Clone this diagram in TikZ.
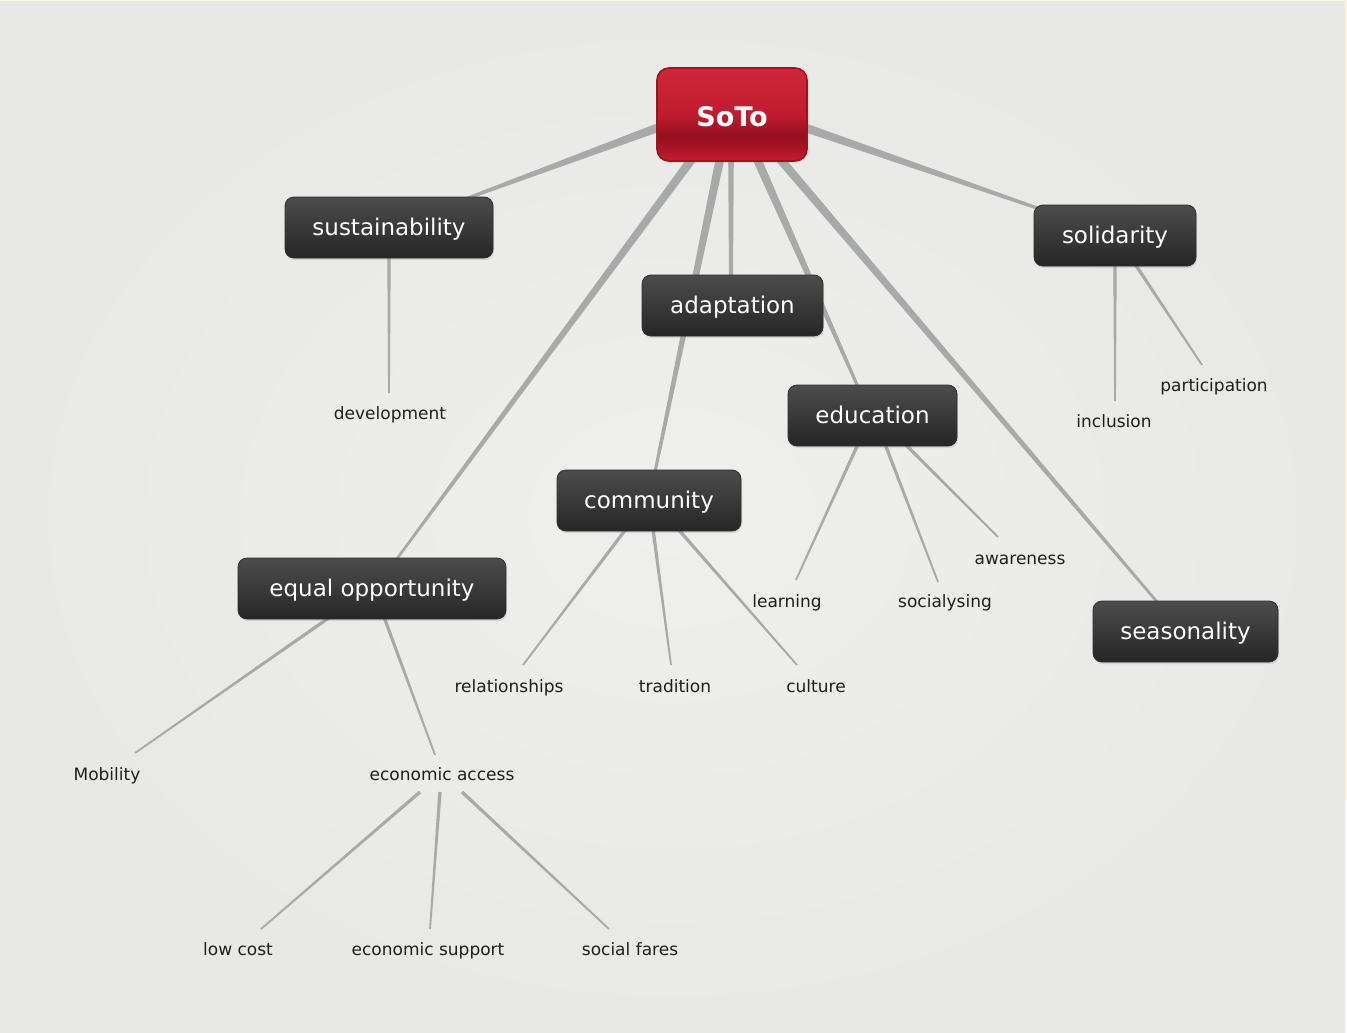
\documentclass[tikz,border=0pt]{standalone}
\usepackage{fontspec}
\setmainfont{DejaVu Sans}
\usetikzlibrary{calc,shadows}

\pgfdeclarelayer{back}
\pgfdeclarelayer{edges}
\pgfsetlayers{back,edges,main}

\definecolor{bgout}{HTML}{E8E8E6}
\definecolor{bgin}{HTML}{EFEFED}
\definecolor{rim}{HTML}{FBF8E2}
\definecolor{edgecol}{HTML}{A8AAA9}
\definecolor{leafcol}{HTML}{1E1E1E}
\definecolor{darktop}{HTML}{4C4C4C}
\definecolor{darkbot}{HTML}{262626}
\definecolor{darkrim}{HTML}{2E2E2E}
\definecolor{redtop}{HTML}{D0263A}
\definecolor{redmid}{HTML}{C01C2E}
\definecolor{reddark}{HTML}{931020}
\definecolor{redlow}{HTML}{AE1526}
\definecolor{redbot}{HTML}{C41D2D}
\definecolor{redrim}{HTML}{A3101F}

% glossy red fill of the root box (stops run bottom to top)
\pgfdeclareverticalshading{rootgloss}{100bp}{%
  color(0bp)=(redbot); color(25bp)=(redbot); color(31bp)=(redlow);
  color(38bp)=(reddark); color(50bp)=(redmid); color(75bp)=(redtop);
  color(100bp)=(redtop)}

% tapered connector: from point #1 to point #2, half widths #3 and #4
\newcommand\conn[4]{%
  \coordinate (ca) at (#1);
  \coordinate (cb) at (#2);
  \fill[edgecol] ($(ca)!#3!90:(cb)$) -- ($(ca)!#3!-90:(cb)$)
    -- ($(cb)!#4!90:(ca)$) -- ($(cb)!#4!-90:(ca)$) -- cycle;}

\tikzset{
  rootbox/.style={rectangle, rounded corners=12pt, draw=redrim, line width=1.6pt,
    shading=rootgloss, minimum width=150pt, minimum height=93pt, inner sep=0pt,
    text=white, font=\bfseries\fontsize{27}{27}\selectfont,
    text height=27pt, text depth=3pt,
    drop shadow={opacity=0.18, shadow xshift=1pt, shadow yshift=-2pt}},
  topic/.style={rectangle, rounded corners=9pt, draw=darkrim, line width=0.8pt,
    top color=darktop, bottom color=darkbot, minimum height=61pt, inner sep=0pt,
    text=white, font=\fontsize{23}{23}\selectfont,
    text height=19pt, text depth=3pt,
    drop shadow={opacity=0.22, shadow xshift=1pt, shadow yshift=-2pt}},
  leaf/.style={inner sep=0pt, text=leafcol, font=\fontsize{17}{17}\selectfont,
    text height=15pt, text depth=2pt},
}

\begin{document}
\begin{tikzpicture}[x=1pt, y=-1pt]
\useasboundingbox (0,0) rectangle (1347,1033);

% backdrop
\begin{pgfonlayer}{back}
  \fill[white] (0,0) rectangle (1347,1033);
  \fill[rim] (0,0) rectangle (1347,800);
  \shade[inner color=bgin, outer color=bgout] (0,2) rectangle (1345,1033);
\end{pgfonlayer}

% root and topics
\node[rootbox] (soto) at (732,114.5) {SoTo};
\node[topic, minimum width=208pt] (sus) at (389,227.5) {sustainability};
\node[topic, minimum width=162pt] (sol) at (1115,235.5) {solidarity};
\node[topic, minimum width=181pt] (ada) at (732.5,305.5) {adaptation};
\node[topic, minimum width=169pt] (edu) at (872.5,415.5) {education};
\node[topic, minimum width=184pt] (com) at (649,500.5) {community};
\node[topic, minimum width=268pt] (eqo) at (372,588.5) {equal opportunity};
\node[topic, minimum width=185pt] (sea) at (1185.5,631.5) {seasonality};

% leaf labels
\node[leaf] (dev) at (390,413) {development};
\node[leaf] (inc) at (1114,421) {inclusion};
\node[leaf] (par) at (1214,385) {participation};
\node[leaf] (awa) at (1020,558) {awareness};
\node[leaf] (lea) at (787,601) {learning};
\node[leaf] (soc) at (945,601) {socialysing};
\node[leaf] (rel) at (509,686) {relationships};
\node[leaf] (tra) at (675,686) {tradition};
\node[leaf] (cul) at (816,686) {culture};
\node[leaf] (mob) at (107,774) {Mobility};
\node[leaf] (eca) at (442,774) {economic access};
\node[leaf] (low) at (238,949) {low cost};
\node[leaf] (esu) at (428,949) {economic support};
\node[leaf] (sfa) at (630,949) {social fares};

% connectors, beneath the boxes
\begin{pgfonlayer}{edges}
  % from the root
  \conn{$(soto)+(-75,13.5)$}{$(sus)+(79,-29.5)$}{4.3pt}{1.6pt}
  \conn{$(soto)+(74,13.5)$}{$(sol)+(-78,-27.5)$}{4.3pt}{1.6pt}
  \conn{$(soto)+(-40,44.5)$}{$(eqo)+(24,-28.5)$}{4.3pt}{1.3pt}
  \conn{$(soto)+(-12,44.5)$}{$(com)+(6,-28.5)$}{4.3pt}{1.5pt}
  \conn{$(soto)+(-1,44.5)$}{$(ada)+(-1.5,-28.5)$}{2.8pt}{2pt}
  \conn{$(soto)+(25,44.5)$}{$(edu)+(-14.5,-28.5)$}{4.3pt}{1.5pt}
  \conn{$(soto)+(48,44.5)$}{$(sea)+(-27.5,-28.5)$}{4.3pt}{1.3pt}
  % from the topics
  \conn{$(sus)+(0,28.5)$}{$(dev)+(-1,-20)$}{1.7pt}{0.9pt}
  \conn{$(sol)+(0,28.5)$}{$(inc)+(1,-20)$}{1.7pt}{0.9pt}
  \conn{$(sol)+(20,28.5)$}{$(par)+(-12,-20)$}{1.7pt}{0.9pt}
  \conn{$(edu)+(-14.5,28.5)$}{$(lea)+(9,-21)$}{1.7pt}{0.9pt}
  \conn{$(edu)+(12.5,28.5)$}{$(soc)+(-7,-19)$}{1.7pt}{0.9pt}
  \conn{$(edu)+(32.5,28.5)$}{$(awa)+(-22,-21)$}{1.7pt}{0.9pt}
  \conn{$(com)+(-23,28.5)$}{$(rel)+(14,-21)$}{1.7pt}{0.9pt}
  \conn{$(com)+(4,28.5)$}{$(tra)+(-4,-21)$}{1.7pt}{0.9pt}
  \conn{$(com)+(29,28.5)$}{$(cul)+(-19,-21)$}{1.7pt}{0.9pt}
  \conn{$(eqo)+(-42,28.5)$}{$(mob)+(28,-21)$}{1.7pt}{0.9pt}
  \conn{$(eqo)+(12,28.5)$}{$(eca)+(-7,-19)$}{1.7pt}{0.9pt}
  % from economic access
  \conn{$(eca)+(-22,18)$}{$(low)+(23,-20)$}{1.7pt}{0.9pt}
  \conn{$(eca)+(-2,18)$}{$(esu)+(2,-20)$}{1.7pt}{0.9pt}
  \conn{$(eca)+(20,18)$}{$(sfa)+(-21,-20)$}{1.7pt}{0.9pt}
\end{pgfonlayer}
\end{tikzpicture}
\end{document}
